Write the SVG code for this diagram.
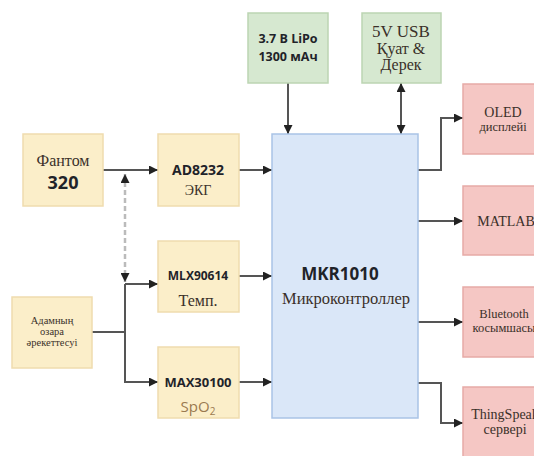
<svg xmlns="http://www.w3.org/2000/svg" width="534" height="456" viewBox="0 0 534 456">
<defs>
<marker id="ah" viewBox="0 0 10 10" refX="10" refY="5" markerWidth="9" markerHeight="9" markerUnits="userSpaceOnUse" orient="auto-start-reverse"><path d="M0,0 L10,5 L0,10 z" fill="#222"/></marker>
<style>
.y{fill:#fbeec9;stroke:#efdcae;stroke-width:1.5}
.g{fill:#d6e8d0;stroke:#bcd5b3;stroke-width:1.5}
.b{fill:#dae7f8;stroke:#a9c3e6;stroke-width:1.5}
.r{fill:#f5c7c4;stroke:#e6aaa6;stroke-width:1.5}
.s{font-family:"Liberation Serif","DejaVu Serif",serif;fill:#3a3029;text-anchor:middle}
.k{font-family:"Open Sans","Liberation Sans",sans-serif;font-weight:700;fill:#1f2329;text-anchor:middle}
.c{fill:none;stroke:#555;stroke-width:2}
.d{fill:none;stroke:#bbb;stroke-width:2.5;stroke-dasharray:5 3}
</style>
</defs>
<rect width="534" height="456" fill="#fff"/>
<g id="connectors">
<path class="c" d="M103,170 H158" marker-end="url(#ah)"/>
<path class="c" d="M239,170 H272" marker-end="url(#ah)"/>
<path class="d" d="M125,174 V282" marker-start="url(#ah)" marker-end="url(#ah)"/>
<path class="c" d="M92,332 H125"/>
<path class="c" d="M125,284 V382 H158" marker-end="url(#ah)"/>
<path class="c" d="M125,284 H158" marker-end="url(#ah)"/>
<path class="c" d="M239,276 H272" marker-end="url(#ah)"/>
<path class="c" d="M239,382 H272" marker-end="url(#ah)"/>
<path class="c" d="M288,83 V134" marker-end="url(#ah)"/>
<path class="c" d="M401,83 V134" marker-start="url(#ah)" marker-end="url(#ah)"/>
<path class="c" d="M418,170 H441 V118 H463" marker-end="url(#ah)"/>
<path class="c" d="M418,221 H463" marker-end="url(#ah)"/>
<path class="c" d="M418,322 H463" marker-end="url(#ah)"/>
<path class="c" d="M418,383 H441 V423 H463" marker-end="url(#ah)"/>
</g>
<g id="fantom">
<rect class="y" x="23" y="134" width="80" height="72"/>
<text class="s" x="63" y="166" font-size="16">Фантом</text>
<text class="k" x="63" y="189" font-size="18">320</text>
</g>
<g id="ad8232">
<rect class="y" x="158" y="134" width="81" height="72"/>
<text class="k" x="198" y="175" font-size="14">AD8232</text>
<text class="s" x="198" y="195" font-size="14" fill="#6a5a4a">ЭКГ</text>
</g>
<g id="mlx90614">
<rect class="y" x="158" y="241" width="81" height="71"/>
<text class="k" x="198" y="280" font-size="12">MLX90614</text>
<text class="s" x="198" y="306" font-size="16">Темп.</text>
</g>
<g id="human">
<rect class="y" x="12" y="297" width="80" height="71"/>
<text class="s" x="52" y="324" font-size="10.5">Адамның</text>
<text class="s" x="52" y="335" font-size="10.5">озара</text>
<text class="s" x="52" y="346" font-size="10.5">әрекеттесуі</text>
</g>
<g id="max30100">
<rect class="y" x="158" y="347" width="81" height="71"/>
<text class="k" x="198" y="387" font-size="13">MAX30100</text>
<text x="198" y="412" font-size="15" text-anchor="middle" font-family="Open Sans, Liberation Sans, sans-serif" fill="#9a7a50">SpO<tspan font-size="10" dy="3">2</tspan></text>
</g>
<g id="lipo">
<rect class="g" x="248" y="13" width="80" height="70"/>
<text class="k" x="288" y="43" font-size="12.5">3.7 В LiPo</text>
<text class="k" x="288" y="61" font-size="12.5">1300 мАч</text>
</g>
<g id="usb">
<rect class="g" x="362" y="13" width="79" height="70"/>
<text class="s" x="401" y="37" font-size="17">5V USB</text>
<text class="s" x="401" y="54" font-size="16">Қуат &amp;</text>
<text class="s" x="401" y="70" font-size="16">Дерек</text>
</g>
<g id="mcu">
<rect class="b" x="272" y="134" width="146" height="284"/>
<text class="k" x="340" y="280" font-size="17">MKR1010</text>
<text class="s" x="346" y="304" font-size="16.5">Микроконтроллер</text>
</g>
<g id="oled">
<rect class="r" x="463" y="84" width="82" height="70"/>
<text class="s" x="503" y="117" font-size="14">OLED</text>
<text class="s" x="503" y="131" font-size="12.5">дисплейі</text>
</g>
<g id="matlab">
<rect class="r" x="463" y="186" width="82" height="69"/>
<text class="s" x="506" y="226" font-size="14">MATLAB</text>
</g>
<g id="bluetooth">
<rect class="r" x="463" y="287" width="82" height="70"/>
<text class="s" x="504" y="318" font-size="12.5">Bluetooth</text>
<text class="s" x="504" y="332" font-size="12.5">косымшасы</text>
</g>
<g id="thingspeak">
<rect class="r" x="463" y="387" width="82" height="72"/>
<text class="s" x="505" y="419" font-size="14">ThingSpeak</text>
<text class="s" x="505" y="434" font-size="14">сервері</text>
</g>
</svg>
